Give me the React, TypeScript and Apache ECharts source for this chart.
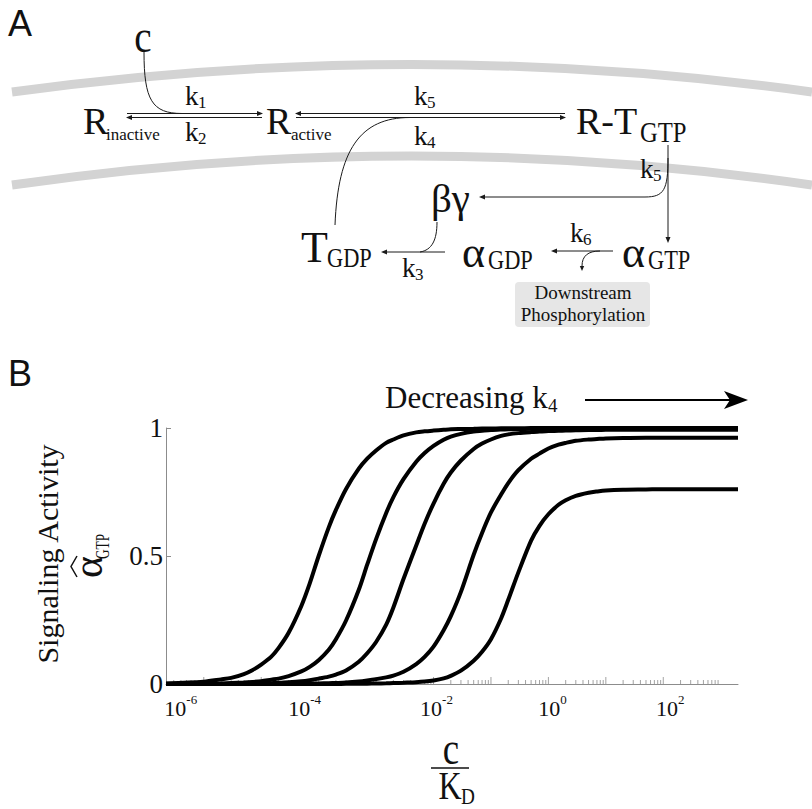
import React, { useEffect, useRef } from "react";
import * as echarts from "echarts";

// ---------------- Data ----------------
// c / K_D sample points
const xValues = [
  2.2e-7, 1e-6, 2e-6, 3e-6, 5e-6, 7e-6, 1e-5, 1.5e-5, 2e-5, 3e-5, 5e-5, 7e-5,
  1e-4, 1.5e-4, 2e-4, 3e-4, 5e-4, 7e-4, 1e-3, 1.5e-3, 2e-3, 3e-3, 5e-3, 7e-3,
  1e-2, 1.5e-2, 2e-2, 3e-2, 5e-2, 7e-2, 0.1, 0.15, 0.2, 0.3, 0.5, 0.7,
  1, 1.5, 2, 3, 5, 7, 10, 20, 50, 100, 300, 1000, 2000,
];

// Signaling activity, one curve per k4 value (k4 decreasing left -> right)
const curve1 = [
  0.002, 0.009, 0.018, 0.024, 0.039, 0.054, 0.076, 0.107, 0.14, 0.2, 0.305, 0.393,
  0.5, 0.612, 0.68, 0.762, 0.841, 0.88, 0.912, 0.942, 0.955, 0.971, 0.983, 0.987,
  0.99, 0.993, 0.995, 0.996, 0.997, 0.998, 0.998, 0.999, 0.999, 0.999, 1, 1,
  1, 1, 1, 1, 1, 1, 1, 1, 1, 1, 1, 1, 1,
];
const curve2 = [
  0.0005, 0.001, 0.002, 0.004, 0.006, 0.008, 0.011, 0.017, 0.021, 0.031, 0.049, 0.067,
  0.093, 0.134, 0.175, 0.248, 0.368, 0.466, 0.566, 0.668, 0.73, 0.8, 0.868, 0.902,
  0.93, 0.954, 0.966, 0.977, 0.986, 0.989, 0.992, 0.994, 0.995, 0.996, 0.997, 0.998,
  0.998, 0.999, 0.999, 0.999, 0.999, 0.999, 0.999, 0.999, 0.999, 0.999, 0.999, 0.999, 0.999,
];
const curve3 = [
  0, 0.0003, 0.0006, 0.0009, 0.0013, 0.0017, 0.0024, 0.0034, 0.0042, 0.0064, 0.0106, 0.015,
  0.021, 0.029, 0.037, 0.053, 0.087, 0.12, 0.164, 0.232, 0.299, 0.41, 0.541, 0.626,
  0.705, 0.782, 0.826, 0.873, 0.918, 0.939, 0.955, 0.969, 0.975, 0.98, 0.984, 0.986,
  0.988, 0.989, 0.99, 0.991, 0.992, 0.992, 0.993, 0.993, 0.993, 0.993, 0.993, 0.993, 0.993,
];
const curve4 = [
  0, 0, 0, 0.0001, 0.0002, 0.0002, 0.0003, 0.0004, 0.0005, 0.0008, 0.0011, 0.0016,
  0.0022, 0.003, 0.004, 0.0058, 0.01, 0.014, 0.019, 0.026, 0.033, 0.048, 0.078, 0.106,
  0.146, 0.21, 0.265, 0.36, 0.505, 0.59, 0.67, 0.74, 0.785, 0.835, 0.88, 0.9,
  0.92, 0.935, 0.942, 0.95, 0.955, 0.957, 0.959, 0.961, 0.962, 0.962, 0.962, 0.962, 0.962,
];
const curve5 = [
  0, 0, 0, 0, 0, 0, 0, 0, 0, 0, 0.0001, 0.0001,
  0.0002, 0.0002, 0.0003, 0.0005, 0.0008, 0.0012, 0.0018, 0.0025, 0.0035, 0.005, 0.007, 0.0095,
  0.014, 0.022, 0.032, 0.052, 0.091, 0.126, 0.175, 0.256, 0.329, 0.436, 0.56, 0.618,
  0.663, 0.7, 0.718, 0.735, 0.747, 0.752, 0.756, 0.759, 0.76, 0.761, 0.761, 0.761, 0.761,
];
const curves = [curve1, curve2, curve3, curve4, curve5];

const yTickValues = [0, 0.5, 1];
const xLabelExponents = [-6, -4, -2, 0, 2];
const X_MIN = 2.2e-7;
const X_MAX = 2000;

// ---------------- Styling helpers ----------------
const SERIF = '"Liberation Serif", "Times New Roman", serif';
const SANS = '"Liberation Sans", Arial, sans-serif';
const INK = "#111";
const LINE = "#1a1a1a";
const AXIS = "#8c8c8c";

function T(text: string, x: number, y: number, size: number, o: any = {}) {
  const align = o.align || "left";
  return {
    type: "text",
    x,
    y,
    rotation: o.rotation || 0,
    scaleX: o.scaleX || 1,
    silent: true,
    z: 10,
    style: {
      text,
      fill: o.fill || INK,
      font: `${size}px ${o.font || SERIF}`,
      textAlign: align,
      textVerticalAlign: "middle",
      align,
      verticalAlign: "middle",
    },
  };
}
function L(x1: number, y1: number, x2: number, y2: number, w = 1, c = LINE) {
  return { type: "line", silent: true, z: 5, shape: { x1, y1, x2, y2 }, style: { stroke: c, lineWidth: w } };
}
function B(x1: number, y1: number, cpx1: number, cpy1: number, cpx2: number, cpy2: number, x2: number, y2: number, w = 1) {
  return {
    type: "bezierCurve",
    silent: true,
    z: 5,
    shape: { x1, y1, cpx1, cpy1, cpx2, cpy2, x2, y2 },
    style: { stroke: LINE, lineWidth: w, fill: "none" },
  };
}
function H(tx: number, ty: number, dx: number, dy: number, len = 6, w = 2.5) {
  const bx = tx - dx * len;
  const by = ty - dy * len;
  const px = -dy;
  const py = dx;
  return {
    type: "polygon",
    silent: true,
    z: 6,
    shape: { points: [[tx, ty], [bx + px * w, by + py * w], [bx - px * w, by - py * w]] },
    style: { fill: LINE },
  };
}
function K(x: number, y: number, sub: string) {
  return [T("k", x, y, 27), T(sub, x + 13, y + 6, 17)];
}

function buildGraphics() {
  const g: any[] = [];
  // ---- Panel A ----
  g.push(T("A", 8, 23, 36, { font: SANS }));
  // membranes
  g.push({ type: "bezierCurve", silent: true, z: 1, shape: { x1: 12, y1: 92, cpx1: 411, cpy1: 37, x2: 812, y2: 92 }, style: { stroke: "#d3d3d3", lineWidth: 9, fill: "none" } });
  g.push({ type: "bezierCurve", silent: true, z: 1, shape: { x1: 12, y1: 185, cpx1: 411, cpy1: 127, x2: 812, y2: 185 }, style: { stroke: "#d3d3d3", lineWidth: 9, fill: "none" } });
  // ligand c
  g.push(T("c", 143, 36, 46, { align: "center", scaleX: 0.85 }));
  g.push(B(144, 52, 144, 100, 152, 113.5, 182, 113.5));
  // R inactive <-> R active
  g.push(T("R", 83, 121, 38));
  g.push(T("inactive", 106, 134, 17));
  g.push(L(127, 113.5, 258, 113.5));
  g.push(H(263, 113.5, 1, 0));
  g.push(L(131, 117.5, 262, 117.5));
  g.push(H(126, 117.5, -1, 0));
  g.push(...K(185, 96, "1"));
  g.push(...K(185, 132, "2"));
  g.push(T("R", 266, 121, 38));
  g.push(T("active", 291, 134, 17));
  // R active <-> R-T GTP
  g.push(L(300, 113.5, 565, 113.5));
  g.push(H(295, 113.5, -1, 0));
  g.push(L(296, 117.5, 561, 117.5));
  g.push(H(566, 117.5, 1, 0));
  g.push(...K(414, 96, "5"));
  g.push(...K(414, 136, "4"));
  g.push(T("R-T", 576, 121, 38));
  g.push(T("GTP", 640, 132, 29, { scaleX: 0.85 }));
  // R-T GTP -> alpha GTP, beta-gamma
  g.push(L(668, 145, 668, 238));
  g.push(H(668, 243, 0, 1));
  g.push(B(668, 158, 668, 190, 664, 197, 645, 197));
  g.push(L(645, 197, 484, 197));
  g.push(H(479, 197, -1, 0));
  g.push(...K(640, 169, "5"));
  g.push(T("βγ", 431, 198, 41));
  // alpha GTP -> alpha GDP
  g.push(T("α", 622, 252, 44));
  g.push(T("GTP", 648, 259, 28, { scaleX: 0.8 }));
  g.push(L(613, 251, 556, 251));
  g.push(H(551, 251, -1, 0));
  g.push(...K(570, 233, "6"));
  g.push(B(600, 251, 588, 251, 582, 256, 582, 266));
  g.push(H(582, 271, 0, 1, 5, 2.2));
  g.push(T("α", 462, 252, 44));
  g.push(T("GDP", 488, 259, 28, { scaleX: 0.8 }));
  // alpha GDP -> T GDP
  g.push(L(445, 252, 386, 252));
  g.push(H(381, 252, -1, 0));
  g.push(...K(402, 268, "3"));
  g.push(B(437, 222, 437, 240, 432, 250, 420, 252));
  g.push(T("T", 301, 247, 44));
  g.push(T("GDP", 327, 257, 28, { scaleX: 0.8 }));
  g.push(B(335, 225, 338, 150, 360, 117.5, 410, 117.5));
  // downstream box
  g.push({ type: "rect", silent: true, z: 2, shape: { x: 515, y: 282, width: 135, height: 45, r: 4 }, style: { fill: "#e6e6e6" } });
  g.push(T("Downstream", 583, 292, 19, { align: "center" }));
  g.push(T("Phosphorylation", 583, 314, 19, { align: "center" }));

  // ---- Panel B ----
  g.push(T("B", 8, 373, 36, { font: SANS }));
  g.push(T("Decreasing k", 385, 397, 31));
  g.push(T("4", 548, 405, 19));
  g.push(L(585, 400, 735, 400, 2, "#000"));
  g.push({ type: "polygon", silent: true, z: 6, shape: { points: [[748, 400], [724, 391], [730, 400], [724, 409]] }, style: { fill: "#000" } });
  // y-axis title
  g.push(T("Signaling Activity", 47, 554, 30, { align: "center", rotation: Math.PI / 2 }));
  g.push({
    type: "group",
    x: 92,
    y: 555,
    rotation: Math.PI / 2,
    silent: true,
    children: [
      { type: "text", x: -12, y: -4, style: { text: "α", font: `42px ${SERIF}`, fill: INK, textAlign: "center", textVerticalAlign: "middle", align: "center", verticalAlign: "middle" } },
      { type: "polyline", shape: { points: [[-22, -15], [-11.5, -21], [-1, -15]] }, style: { stroke: INK, lineWidth: 1.5, fill: "none" } },
      { type: "text", x: -4, y: 11, scaleX: 0.7, style: { text: "GTP", font: `19px ${SERIF}`, fill: INK, textAlign: "left", textVerticalAlign: "middle", align: "left", verticalAlign: "middle" } },
    ],
  });
  // x-axis title c / K_D
  g.push(T("c", 451, 749, 46, { align: "center", scaleX: 0.8 }));
  g.push(L(431, 768, 469, 768, 1.5, INK));
  g.push(T("K", 450, 786, 40, { align: "center", scaleX: 0.8 }));
  g.push(T("D", 461, 796, 24, { scaleX: 0.8 }));
  return g;
}

function buildOption() {
  const majorTicks: number[] = [];
  const minorTicks: number[] = [];
  for (let n = -7; n <= 2; n++) {
    const p = Math.pow(10, n);
    if (n >= -6) majorTicks.push(p);
    for (let k = 2; k <= 9; k++) {
      const v = k * p;
      if (v > X_MIN * 1.05 && v < X_MAX) minorTicks.push(v);
    }
  }
  // label offsets (the reference's labels sit a bit left of their ticks on the low end)
  const padKey: Record<number, string> = { [-6]: "t46", [-4]: "t28", [-2]: "l6", [0]: "l8", [2]: "l14" };
  const rich: any = {
    b: { fontFamily: SERIF, fontSize: 22, color: INK, lineHeight: 26, verticalAlign: "bottom" },
    s: { fontFamily: SERIF, fontSize: 13, color: INK, lineHeight: 14, verticalAlign: "top" },
    t46: { width: 46, lineHeight: 26 },
    t28: { width: 28, lineHeight: 26 },
    l6: { width: 6, lineHeight: 26 },
    l8: { width: 8, lineHeight: 26 },
    l14: { width: 14, lineHeight: 26 },
  };

  const lineSeries = curves.map((c, i) => ({
    type: "line",
    name: "k4 #" + (i + 1),
    data: xValues.map((x, j) => [x, c[j]]),
    showSymbol: false,
    symbol: "none",
    smooth: 0.3,
    clip: false,
    z: 5,
    lineStyle: { color: "#000", width: 4 },
    silent: true,
  }));

  return {
    animation: false,
    backgroundColor: "#fff",
    grid: { left: 166, right: 74, top: 428, bottom: 125, containLabel: false },
    xAxis: {
      type: "log",
      logBase: 10,
      min: X_MIN,
      max: X_MAX,
      splitNumber: 10,
      axisLine: { show: true, lineStyle: { color: AXIS, width: 1 } },
      axisTick: { show: false },
      minorTick: { show: false },
      splitLine: { show: false },
      axisLabel: {
        margin: 9,
        showMinLabel: false,
        showMaxLabel: false,
        formatter: (v: number) => {
          const lg = Math.log10(v);
          const e = Math.round(lg);
          if (Math.abs(lg - e) > 1e-6 || xLabelExponents.indexOf(e) < 0) return "";
          const sup = e < 0 ? "-" + -e : String(e);
          const key = padKey[e];
          if (key.charAt(0) === "t") return `{b|10}{s|${sup}}{${key}| }`;
          return `{${key}| }{b|10}{s|${sup}}`;
        },
        rich,
      },
    },
    yAxis: {
      type: "value",
      min: 0,
      max: 1,
      interval: 0.5,
      axisLine: { show: true, lineStyle: { color: AXIS, width: 1 } },
      axisTick: { show: true, inside: true, length: 5, lineStyle: { color: AXIS } },
      splitLine: { show: false },
      axisLabel: {
        margin: 3,
        fontFamily: SERIF,
        fontSize: 27,
        color: INK,
        formatter: (v: number) => (yTickValues.indexOf(v) >= 0 ? String(v) : ""),
      },
    },
    series: [
      {
        type: "scatter",
        name: "minor ticks",
        data: minorTicks.map((v) => [v, 0]),
        symbol: "rect",
        symbolSize: [1, 4],
        symbolOffset: [0, -2],
        itemStyle: { color: AXIS },
        clip: false,
        silent: true,
        z: 1,
      },
      {
        type: "scatter",
        name: "major ticks",
        data: majorTicks.map((v) => [v, 0]),
        symbol: "rect",
        symbolSize: [1, 7],
        symbolOffset: [0, -3.5],
        itemStyle: { color: AXIS },
        clip: false,
        silent: true,
        z: 1,
      },
      ...lineSeries,
    ],
    graphic: { elements: buildGraphics() },
  };
}

export default function App() {
  const ref = useRef<HTMLDivElement>(null);
  useEffect(() => {
    const chart = echarts.init(ref.current as HTMLDivElement, null, { renderer: "svg", width: 812, height: 809 });
    chart.setOption(buildOption() as any);
    return () => chart.dispose();
  }, []);
  return (
    <div
      ref={ref}
      style={{ position: "fixed", left: 0, top: 0, width: 812, height: 809, background: "#fff" }}
    />
  );
}
